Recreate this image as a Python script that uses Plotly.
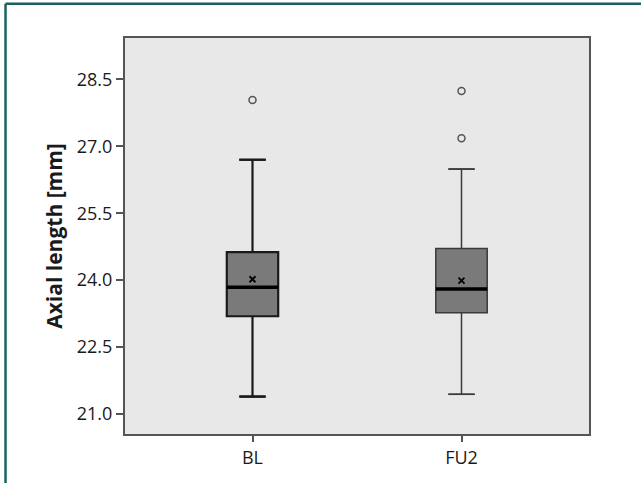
import plotly.graph_objects as go

categories = ["BL", "FU2"]
q1 = [23.19, 23.27]
median = [23.84, 23.80]
q3 = [24.63, 24.71]
lower_whisker = [21.39, 21.44]
upper_whisker = [26.70, 26.49]
means = [24.02, 23.99]
outliers = [[28.04], [28.24, 27.18]]
y_ticks = [21.0, 22.5, 24.0, 25.5, 27.0, 28.5]

box_w = 0.246
cap_w = 0.128
whisker_widths = [2.2, 1.5]
whisker_colors = ["#1a1a1a", "#3a3a3a"]

fig = go.Figure()
pos = list(range(len(categories)))

for i, c in enumerate(categories):
    fig.add_trace(go.Box(
        x=[pos[i]], q1=[q1[i]], median=[median[i]], q3=[q3[i]],
        lowerfence=[lower_whisker[i]], upperfence=[upper_whisker[i]],
        width=box_w, fillcolor="#7a7a7a",
        line=dict(color=whisker_colors[i], width=whisker_widths[i]),
        boxpoints=False, showlegend=False, hoverinfo="skip",
    ))
    # thick median line
    fig.add_trace(go.Scatter(
        x=[pos[i] - box_w / 2, pos[i] + box_w / 2], y=[median[i], median[i]],
        mode="lines", line=dict(color="black", width=3.5),
        showlegend=False, hoverinfo="skip"))
    # whisker caps
    for v in (lower_whisker[i], upper_whisker[i]):
        fig.add_trace(go.Scatter(
            x=[pos[i] - cap_w / 2, pos[i] + cap_w / 2], y=[v, v],
            mode="lines", line=dict(color=whisker_colors[i], width=whisker_widths[i]),
            showlegend=False, hoverinfo="skip"))
    # mean
    fig.add_trace(go.Scatter(
        x=[pos[i]], y=[means[i]], mode="markers",
        marker=dict(symbol="x-thin-open", size=6, color="black",
                    line=dict(color="black", width=1.8)),
        showlegend=False, hoverinfo="skip"))
    # outliers
    fig.add_trace(go.Scatter(
        x=[pos[i]] * len(outliers[i]), y=outliers[i], mode="markers",
        marker=dict(symbol="circle-open", size=7, color="#555555", line=dict(width=1.5)),
        showlegend=False, hoverinfo="skip"))

fig.update_layout(
    width=641, height=483,
    margin=dict(l=125, r=52, t=38, b=49),
    paper_bgcolor="white", plot_bgcolor="#e8e8e8",
    font=dict(family="Open Sans", size=18, color="#1a1a1a"),
    xaxis=dict(range=[-0.61, 1.61], tickvals=pos, ticktext=categories,
               showgrid=False, zeroline=False, showline=True, mirror=True,
               linecolor="#555555", linewidth=2, ticks="outside", ticklen=6,
               tickcolor="#555555", tickwidth=1.5),
    yaxis=dict(range=[20.55, 29.43], tickvals=y_ticks,
               ticktext=[f"{v:.1f}" for v in y_ticks],
               showgrid=False, zeroline=False, showline=True, mirror=True,
               linecolor="#555555", linewidth=2, ticks="outside", ticklen=7,
               tickcolor="#555555", tickwidth=1.5,
               title=dict(text="<b>Axial length [mm]</b>", font=dict(size=21), standoff=8)),
    shapes=[
        dict(type="line", xref="paper", yref="paper",
             x0=-0.2575, x1=1.2, y0=1.0864, y1=1.0864,
             line=dict(color="#1a6262", width=2.5)),
        dict(type="line", xref="paper", yref="paper",
             x0=-0.2575, x1=-0.2575, y0=1.0864, y1=-0.2,
             line=dict(color="#1a6262", width=2.5)),
    ],
)

fig.write_html("out.html")
